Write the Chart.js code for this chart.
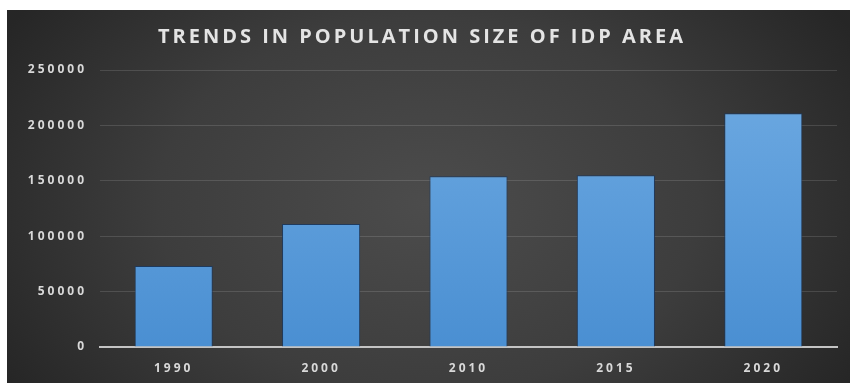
<!DOCTYPE html>
<html>
<head>
<meta charset="utf-8">
<script src="https://cdn.jsdelivr.net/npm/chart.js@4/dist/chart.umd.min.js"></script>
<style>
  html, body { margin: 0; padding: 0; background: #ffffff; }
  body { width: 850px; height: 383px; position: relative; overflow: hidden; }
  #wrap { position: absolute; left: 7px; top: 10px; width: 843px; height: 373px; }
</style>
</head>
<body>
<div id="wrap"><canvas id="chart" width="843" height="373"></canvas></div>
<script>
// Population of the IDP area by census year
const years = ['1990', '2000', '2010', '2015', '2020'];
const population = [73000, 111000, 154000, 155000, 211000];
const yTicks = [0, 50000, 100000, 150000, 200000, 250000];
const chartTitle = 'TRENDS IN POPULATION SIZE OF IDP AREA';

// Dark panel with a soft radial highlight behind the plot
const panelBackground = {
  id: 'panelBackground',
  beforeDraw(chart) {
    const { ctx, width, height } = chart;
    ctx.save();
    ctx.translate(width * 0.5, height * 0.52);
    ctx.scale(1.45, 1);
    const g = ctx.createRadialGradient(0, 0, 0, 0, 0, 340);
    g.addColorStop(0, '#4c4c4c');
    g.addColorStop(0.55, '#3d3d3d');
    g.addColorStop(1, '#262626');
    ctx.fillStyle = g;
    ctx.fillRect(-width, -height, width * 2, height * 2);
    ctx.restore();
    ctx.letterSpacing = '3px';
  }
};

function barGradient(context) {
  const { chart } = context;
  const area = chart.chartArea;
  if (!area) return '#5b9bd5';
  const g = chart.ctx.createLinearGradient(0, area.top, 0, area.bottom);
  g.addColorStop(0, '#6eaae2');
  g.addColorStop(1, '#4a8fd2');
  return g;
}

new Chart(document.getElementById('chart'), {
  type: 'bar',
  data: {
    labels: years,
    datasets: [{
      data: population,
      backgroundColor: barGradient,
      borderColor: 'rgba(28, 58, 96, 0.9)',
      borderWidth: 1,
      categoryPercentage: 1,
      barPercentage: 0.53
    }]
  },
  options: {
    responsive: false,
    animation: false,
    layout: { padding: { left: 0, right: 13, top: 0, bottom: 0 } },
    plugins: {
      legend: { display: false },
      tooltip: { enabled: false },
      title: {
        display: true,
        text: chartTitle,
        color: '#e4e4e4',
        font: { family: 'Open Sans', size: 20, weight: 'bold', lineHeight: 1.2 },
        padding: { top: 15, bottom: 21 }
      }
    },
    scales: {
      x: {
        grid: { display: false, drawTicks: false },
        border: { display: true, color: '#c4c4c4', width: 2 },
        ticks: {
          color: '#d9d9d9',
          font: { family: 'Open Sans', size: 12, weight: 'bold' },
          padding: 14
        },
        afterFit(scale) { scale.height = 36; }
      },
      y: {
        min: 0,
        max: 250000,
        afterBuildTicks(scale) { scale.ticks = yTicks.map(v => ({ value: v })); },
        grid: { color: 'rgba(255,255,255,0.13)', lineWidth: 1, drawTicks: false },
        border: { display: false },
        ticks: {
          color: '#d9d9d9',
          font: { family: 'Open Sans', size: 12, weight: 'bold' },
          padding: 13,
          callback: v => String(v)
        },
        afterFit(scale) { scale.width = 93; }
      }
    }
  },
  plugins: [panelBackground]
});
</script>
</body>
</html>
